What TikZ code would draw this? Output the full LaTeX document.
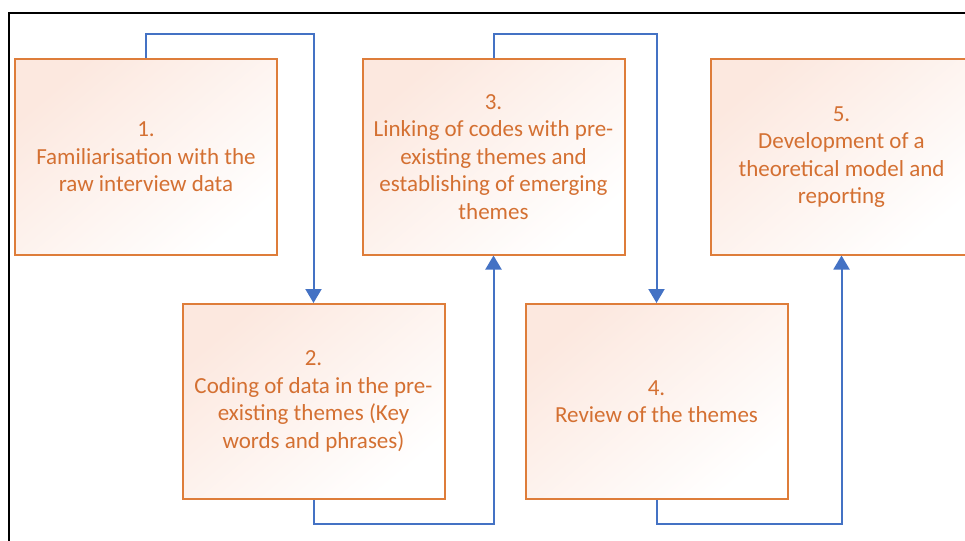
\documentclass[tikz,border=0pt]{standalone}
\usepackage{fontspec}
\setmainfont{Carlito}
\usepackage{tikz}
\usetikzlibrary{arrows.meta}
\definecolor{stageorange}{RGB}{222,125,58}
\definecolor{stagetext}{RGB}{212,112,50}
\definecolor{stagepeach}{RGB}{252,232,223}
\definecolor{flowblue}{RGB}{68,114,196}

\begin{document}
\begin{tikzpicture}[x=1pt,y=-1pt,
	stage/.style={draw=stageorange, line width=2pt, top color=stagepeach, middle color=stagepeach!20!white, bottom color=white, shading angle=40, minimum width=262pt, minimum height=195pt, inner sep=0pt, align=center, text=stagetext, font=\fontsize{23}{27.5}\selectfont},
	flow/.style={draw=flowblue, line width=2pt, -{Triangle[width=16pt,length=14pt]}}]
	\useasboundingbox (0,0) rectangle (965,540);
	\clip (0,0) rectangle (965,540);

	% outer frame, cut off at the right and bottom
	\draw [black, line width=2.2pt] (9,560) |- (990,13);

	\node [stage] (b1) at (146,157) {1.\\Familiarisation with the\\raw interview data};
	\node [stage] (b2) at (313.5,401.5) {2.\\Coding of data in the pre-\\existing themes (Key\\words and phrases)};
	\node [stage] (b3) at (493.5,157) {3.\\Linking of codes with pre-\\existing themes and\\establishing of emerging\\themes};
	\node [stage] (b4) at (656.5,401.5) {4.\\Review of the themes};
	\node [stage] (b5) at (841.5,157) {5.\\Development of a\\theoretical model and\\reporting};

	\draw [flow] (b1.north) -- ++(0,-24) -| (b2.north);
	\draw [flow] (b2.south) -- ++(0,24) -| (b3.south);
	\draw [flow] (b3.north) -- ++(0,-24) -| (b4.north);
	\draw [flow] (b4.south) -- ++(0,24) -| (b5.south);
\end{tikzpicture}
\end{document}
